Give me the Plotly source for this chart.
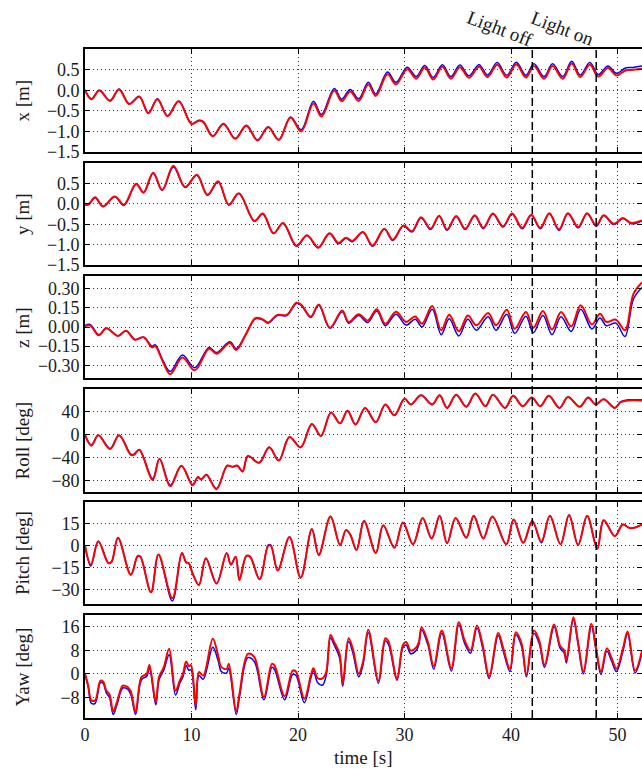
import plotly.graph_objects as go

# ---------------- data ----------------
x_ticks = [0, 10, 20, 30, 40, 50]

# x [m]
t_x = [0, 0.6, 1.35, 2.35, 3.2, 4.15, 5.1, 5.95, 6.8, 7.75, 8.8, 10.0, 10.7, 11.1, 12.0, 13.0, 14.1, 15.15, 16.2, 17.2,
       18.2, 19.3, 20.3, 21.45, 22.2, 23.4, 24.1, 24.9, 25.7, 26.6, 27.3, 28.4, 29.2, 30.25, 31.1, 31.9, 32.7, 33.55, 34.35, 35.2,
       36.05, 37.0, 37.8, 38.7, 39.6, 40.5, 41.4, 42.15, 43.1, 43.9, 44.85, 45.7, 46.5, 47.4, 48.2, 49.1, 49.9, 50.75, 51.3, 52.3]
x_red = [0.0, -0.22, -0.01, -0.26, 0.02, -0.34, -0.16, -0.56, -0.22, -0.63, -0.27, -0.82, -0.74, -0.77, -1.12, -0.82, -1.18, -0.86, -1.22, -0.90,
         -1.21, -0.66, -1.00, -0.32, -0.64, -0.01, -0.27, -0.03, -0.26, 0.14, -0.14, 0.39, 0.14, 0.51, 0.28, 0.55, 0.26, 0.57, 0.28, 0.56,
         0.30, 0.57, 0.32, 0.62, 0.31, 0.63, 0.31, 0.59, 0.28, 0.59, 0.28, 0.65, 0.32, 0.62, 0.33, 0.54, 0.36, 0.48, 0.49, 0.52]
x_blue = [0.01, -0.21, 0.0, -0.25, 0.03, -0.33, -0.15, -0.55, -0.21, -0.62, -0.26, -0.81, -0.73, -0.76, -1.11, -0.81, -1.17, -0.85, -1.21, -0.89,
          -1.20, -0.65, -0.96, -0.27, -0.59, 0.04, -0.22, 0.02, -0.21, 0.19, -0.09, 0.44, 0.19, 0.56, 0.33, 0.60, 0.31, 0.62, 0.33, 0.61,
          0.35, 0.62, 0.37, 0.67, 0.36, 0.68, 0.36, 0.64, 0.33, 0.64, 0.33, 0.70, 0.37, 0.67, 0.38, 0.59, 0.41, 0.54, 0.55, 0.59]

# y [m]
t_y = [0, 0.35, 0.95, 1.7, 2.8, 3.65, 4.8, 5.5, 6.4, 7.25, 8.3, 9.4, 10.5, 11.5, 12.5, 13.5, 14.45, 15.9, 16.7, 17.7,
       18.6, 19.85, 20.85, 21.9, 22.95, 23.8, 24.5, 25.1, 26.1, 27.0, 28.1, 28.9, 29.9, 30.7, 31.55, 32.45, 33.25, 34.0, 34.85, 35.7,
       36.6, 37.4, 38.3, 39.25, 40.1, 41.05, 41.9, 42.75, 43.6, 44.5, 45.35, 46.3, 47.15, 48.0, 48.7, 49.65, 50.5, 51.3, 52.3]
y_red = [0.0, 0.0, 0.16, -0.06, 0.18, -0.02, 0.49, 0.28, 0.76, 0.34, 0.93, 0.41, 0.71, 0.22, 0.55, -0.02, 0.26, -0.42, -0.24, -0.72,
         -0.47, -1.03, -0.77, -1.07, -0.72, -0.96, -0.83, -0.91, -0.69, -1.02, -0.61, -0.88, -0.53, -0.67, -0.33, -0.61, -0.29, -0.63, -0.30, -0.61,
         -0.28, -0.59, -0.24, -0.55, -0.24, -0.59, -0.27, -0.59, -0.23, -0.63, -0.23, -0.57, -0.23, -0.53, -0.28, -0.49, -0.35, -0.47, -0.41]
y_blue = [-0.03, -0.02, 0.15, -0.07, 0.17, -0.04, 0.48, 0.27, 0.75, 0.33, 0.90, 0.40, 0.70, 0.21, 0.54, -0.03, 0.25, -0.43, -0.25, -0.73,
          -0.48, -1.04, -0.78, -1.08, -0.73, -0.98, -0.84, -0.93, -0.70, -1.04, -0.62, -0.90, -0.54, -0.69, -0.34, -0.63, -0.30, -0.65, -0.31, -0.63,
          -0.29, -0.61, -0.25, -0.57, -0.25, -0.61, -0.28, -0.61, -0.24, -0.65, -0.24, -0.59, -0.24, -0.55, -0.29, -0.51, -0.36, -0.49, -0.42]

# z [m]
t_z = [0, 0.47, 1.3, 2.0, 3.1, 3.85, 4.7, 5.5, 6.3, 6.6, 7.3, 8.0, 9.15, 10.3, 11.65, 12.35, 13.6, 14.2, 15.15, 16.0,
       16.7, 17.2, 18.05, 18.95, 19.85, 20.3, 21.2, 21.95, 23.0, 24.15, 24.75, 25.7, 26.55, 27.4, 28.2, 29.2, 30.15, 31.0, 31.65, 32.6,
       33.45, 34.2, 35.1, 35.95, 36.75, 37.85, 38.6, 39.6, 40.35, 41.4, 42.1, 43.0, 43.85, 44.7, 45.65, 46.55, 47.6, 48.35, 48.95, 49.85,
       50.7, 51.5, 52.3]
z_red = [0.005, 0.013, -0.065, -0.01, -0.07, -0.03, -0.10, -0.08, -0.16, -0.15, -0.27, -0.37, -0.24, -0.34, -0.17, -0.21, -0.125, -0.18, -0.05, 0.07,
         0.06, 0.035, 0.095, 0.095, 0.19, 0.175, 0.08, 0.177, -0.005, 0.13, 0.04, 0.10, 0.05, 0.14, 0.025, 0.12, 0.04, 0.083, 0.026, 0.164,
         -0.026, 0.096, -0.034, 0.09, 0.013, 0.11, 0.013, 0.135, -0.013, 0.117, -0.005, 0.125, -0.02, 0.117, 0.005, 0.17, 0.02, 0.104, 0.04, 0.057,
         -0.026, 0.26, 0.35]
z_blue = [0.01, 0.02, -0.06, -0.01, -0.07, -0.03, -0.10, -0.08, -0.15, -0.14, -0.26, -0.35, -0.22, -0.32, -0.16, -0.20, -0.115, -0.17, -0.05, 0.065,
          0.055, 0.03, 0.09, 0.09, 0.185, 0.17, 0.075, 0.17, -0.01, 0.12, 0.03, 0.09, 0.035, 0.125, 0.01, 0.10, 0.015, 0.06, 0.0, 0.14,
          -0.06, 0.065, -0.07, 0.06, -0.025, 0.08, -0.025, 0.10, -0.05, 0.085, -0.045, 0.09, -0.06, 0.08, -0.035, 0.14, -0.015, 0.07, 0.01, 0.03,
          -0.075, 0.22, 0.31]

# Roll [deg]
t_roll = [0, 0.6, 1.25, 2.35, 3.2, 4.3, 4.6, 5.1, 6.35, 7.0, 8.0, 9.05, 10.1, 10.6, 10.9, 11.4, 12.35, 13.35, 13.85, 14.3,
          14.8, 15.3, 16.35, 17.3, 18.2, 19.2, 20.25, 21.3, 22.15, 23.1, 23.95, 24.65, 25.4, 26.3, 27.3, 28.2, 29.05, 30.0, 30.6, 31.55,
          32.6, 33.3, 34.0, 34.85, 35.8, 36.65, 37.6, 38.3, 39.45, 40.2, 41.1, 41.95, 42.75, 43.55, 44.55, 45.35, 46.45, 47.25, 47.95, 48.7,
          49.75, 50.3, 51.0, 52.3]
roll_red = [0, -19, -1, -25, -1, -35, -35, -26, -79, -42, -90, -54, -88, -74, -78, -70, -95, -54, -56, -54,
            -64, -37, -49, -22, -45, -4, -22, 19, -2, 39, 20, 42, 18, 47, 22, 53, 34, 63, 53, 69,
            53, 69, 47, 70, 49, 72, 50, 70, 47, 68, 50, 65, 50, 68, 47, 66, 49, 65, 53, 62,
            47, 57, 60, 60]
roll_blue = [0, -18, -1, -24, -1, -34, -34, -26, -77, -42, -88, -54, -87, -74, -78, -70, -94, -54, -56, -54,
             -64, -37, -49, -22, -45, -4, -22, 19, -2, 39, 20, 42, 18, 47, 22, 53, 34, 63, 53, 69,
             53, 69, 47, 70, 49, 72, 50, 70, 47, 68, 50, 65, 50, 68, 47, 66, 49, 65, 53, 62,
             47, 58, 61, 61]

# Pitch [deg]
t_pitch = [0, 0.55, 1.25, 2.2, 2.5, 3.1, 4.3, 4.95, 5.2, 6.2, 6.9, 8.2, 9.1, 9.5, 9.75, 10.1, 10.7, 11.35, 12.35, 13.3,
           13.7, 14.15, 14.5, 15.15, 15.5, 16.4, 17.2, 17.45, 18.1, 19.2, 20.25, 21.3, 21.95, 23.05, 23.95, 24.5, 24.9, 25.5, 26.2, 27.3,
           28.0, 29.05, 29.85, 30.8, 31.7, 32.55, 33.3, 34.0, 34.8, 35.8, 36.5, 37.4, 38.25, 39.55, 40.25, 41.15, 42.0, 42.85, 43.65, 44.65,
           45.45, 46.3, 47.15, 48.1, 48.7, 49.75, 50.5, 51.2, 52.3]
pitch_red = [0, -13, 3, -12, -11, 5.5, -20, -7, -7.5, -32, -6, -36, -5, -11.5, -12, -19, -27, -8.6, -26, -5,
             -13, -7.5, -23.5, -7, -7.5, -23, 0, 0, -17, 6, -22, 11.4, -6.4, 20, 0.5, 10.7, 7.7, -3, 17, -5,
             14, -1.4, 16, 1, 19, 5, 20.5, 1.6, 19, 5.5, 20.5, 5, 20, 1, 18, 2, 17, 2.7, 20.5, 1,
             21, 0.5, 20.5, -2, 17.5, 6.6, 14.5, 12, 14.5]
pitch_blue = [0, -14, 3, -12, -11, 5.5, -20, -7, -7.5, -32, -6, -38, -5, -11.5, -12, -19, -27, -8.6, -26, -5,
              -13, -7.5, -23.5, -7, -7.5, -23, 0.5, 0.5, -17, 6, -22, 11.4, -6.4, 20, 0.5, 10.7, 7.7, -3, 17, -5,
              14, -1.4, 16, 1, 19, 5, 20.5, 1.6, 19, 5.5, 20.5, 5, 20, 1, 18, 2, 17, 2, 20.5, 1,
              21, 0.5, 20.5, -2, 17.5, 6.6, 14.5, 12, 14.5]

# Yaw [deg]
t_yaw = [0, 0.3, 0.6, 0.95, 1.45, 1.7, 2.0, 2.3, 2.65, 3.0, 3.55, 4.0, 4.3, 4.75, 5.3, 5.8, 6.05, 6.65, 6.95, 7.4,
         7.9, 8.5, 8.9, 9.2, 9.5, 9.75, 9.95, 10.4, 10.7, 11.1, 12.0, 12.5, 12.8, 13.3, 13.5, 14.2, 14.5, 15.3, 15.9, 16.8,
         17.55, 17.8, 18.75, 19.5, 19.8, 20.6, 21.2, 21.45, 21.85, 22.3, 22.65, 23.05, 23.4, 23.9, 24.2, 24.75, 25.15, 25.7, 26.1, 26.6,
         27.55, 28.2, 28.5, 29.3, 29.85, 30.15, 30.6, 31.1, 31.35, 31.6, 32.2, 32.75, 33.5, 34.4, 35.1, 35.65, 36.2, 36.8, 37.35, 37.95,
         38.8, 39.25, 39.9, 40.45, 41.0, 41.45, 42.15, 42.65, 43.15, 44.05, 44.6, 45.0, 45.2, 45.85, 46.3, 46.8, 47.55, 48.0, 48.45, 49.0,
         49.45, 49.9, 50.5, 50.95, 51.65, 52.3]
yaw_red = [0, -4, -9, -9, -2.3, -2.6, -5.7, -7, -12.8, -9.6, -4, -4.5, -6, -13, -1.1, 0, 3, -9.6, -1.1, 2.3,
           8.5, -5.7, -2.3, 0, 4.2, 2.6, 3, -10.8, 0.6, -0.6, 11.9, 6.2, 2.3, 1.7, 3.4, -12.8, -6.8, 6.8, 5.7, -7.9,
           3.4, 2.8, -7.6, 1.1, 0.8, -8.5, -0.6, 1.9, -1.5, -1.5, 0.6, 13.2, 10.8, 6.8, -3.4, 12.1, 8.5, 0, 4, 15,
           -2.3, 12.1, 11, -1.5, 9.8, 10.8, 7.9, 9, 10.8, 15.8, 10.8, 2.6, 14.7, 1.9, 17.5, 11.3, 7.9, 16.4, 9.6, -0.8,
           13.9, 9, 1.7, 14.1, 10.2, -0.3, 14.7, 11.3, 3, 16.8, 9.6, 7.9, 4.5, 19.2, 10.8, 0.8, 17, 8.5, 0.6, 8.7,
           5.3, 1.7, 8.5, 14.4, 1.1, 7.9]
yaw_blue = [0, -4.5, -10, -10, -3, -3.2, -6.5, -8, -13.8, -10.5, -4.8, -5.2, -7, -13.8, -2, -0.8, 2, -10.5, -2, 1.3,
            6.5, -7.2, -3.2, -1, 2.8, 1.2, 1.5, -12.2, -0.6, -1.8, 9.0, 4.5, 0.8, 0.3, 2, -13.8, -8, 5.5, 4.2, -8.8,
            2.2, 1.5, -8.8, -0.2, -0.5, -9.8, -1.5, 1, -3, -3.8, -0.5, 12.2, 9.8, 5.5, -4.2, 11, 7.2, -1, 3, 14,
            -3.2, 11.2, 10, -2.2, 9, 9.8, 6.8, 8, 10, 15, 9.8, 1.6, 13.8, 1, 16.6, 10.3, 7, 15.6, 8.6, -1.6,
            13, 8, 0.8, 13.3, 9.3, -1, 13.8, 10.3, 2.2, 16, 8.8, 7, 3.7, 18.4, 10, 0, 16.2, 7.6, -0.2, 7.8,
            4.3, 0.8, 7.5, 13.6, 0.3, 7]

panel_labels = ["x [m]", "y [m]", "z [m]", "Roll [deg]", "Pitch [deg]", "Yaw [deg]"]
panel_ticks = [[-1.5, -1.0, -0.5, 0.0, 0.5], [-1.5, -1.0, -0.5, 0.0, 0.5], [-0.30, -0.15, 0.0, 0.15, 0.30],
               [-80, -40, 0, 40], [-30, -15, 0, 15], [-8, 0, 8, 16]]
panel_ranges = [[-1.5, 1.0], [-1.5, 1.0], [-0.4, 0.4], [-100, 80], [-40, 30], [-15, 20]]
panel_formats = [".1f", ".1f", ".2f", "d", "d", "d"]
event_times = [42, 48]
event_labels = ["Light off", "Light on"]
event_label_x = [38.96, 44.87]

series = [(t_x, x_blue, x_red), (t_y, y_blue, y_red), (t_z, z_blue, z_red),
          (t_roll, roll_blue, roll_red), (t_pitch, pitch_blue, pitch_red), (t_yaw, yaw_blue, yaw_red)]

# ---------------- layout ----------------
W, H = 642, 769
X0 = 85 / W
panel_px = [(49, 152), (163, 265), (276, 378), (389, 492), (502, 604), (615, 718)]
FONT = "Liberation Serif"
TXT = "#1a1a1a"

fig = go.Figure()
layout = dict(width=W, height=H, margin=dict(l=0, r=0, t=0, b=0, pad=0, autoexpand=False),
              paper_bgcolor="white", plot_bgcolor="white", showlegend=False,
              font=dict(family=FONT, size=18, color=TXT))

annotations = []
shapes = []
for i, (t, b, r) in enumerate(series):
    n = "" if i == 0 else str(i + 1)
    top, bot = panel_px[i]
    dom = [1 - bot / H, 1 - top / H]
    common = dict(ticks="inside", ticklen=5, tickwidth=1, tickcolor="black",
                  mirror="allticks", showline=True, linewidth=1.6, linecolor="black",
                  showgrid=True, gridcolor="#333", griddash="1px,3px", gridwidth=1, zeroline=False,
                  automargin=False, tickfont=dict(family=FONT, size=18, color=TXT))
    xa = dict(domain=[X0, 1.0], anchor="y" + n, range=[0, 52.3], tickvals=x_ticks,
              showticklabels=(i == 5), **common)
    if i > 0:
        xa["matches"] = "x"
    ya = dict(domain=dom, anchor="x" + n, range=panel_ranges[i], tickvals=panel_ticks[i],
              tickformat=panel_formats[i], **common)
    layout["xaxis" + n] = xa
    layout["yaxis" + n] = ya
    fig.add_trace(go.Scatter(x=t, y=b, mode="lines", line=dict(color="#0000ff", width=1.5, shape="spline"),
                             xaxis="x" + n, yaxis="y" + n, hoverinfo="skip"))
    fig.add_trace(go.Scatter(x=t, y=r, mode="lines", line=dict(color="#ff0000", width=2, shape="spline"),
                             xaxis="x" + n, yaxis="y" + n, hoverinfo="skip"))
    annotations.append(dict(text=panel_labels[i], xref="paper", yref="paper", x=22 / W,
                            y=(dom[0] + dom[1]) / 2, textangle=-90, showarrow=False,
                            xanchor="center", yanchor="middle", font=dict(family=FONT, size=19, color=TXT)))

top_paper = 1 - panel_px[0][0] / H
bot_paper = 1 - panel_px[5][1] / H
for et, lab, lx in zip(event_times, event_labels, event_label_x):
    shapes.append(dict(type="line", xref="x6", yref="paper", x0=et, x1=et, y0=bot_paper, y1=top_paper,
                       line=dict(color="black", width=1.5, dash="8px,4px")))
    annotations.append(dict(text=lab, xref="x", yref="paper", x=lx, y=1 - 28 / H, textangle=21,
                            showarrow=False, xanchor="center", yanchor="middle",
                            font=dict(family=FONT, size=19, color=TXT)))

annotations.append(dict(text="time [s]", xref="paper", yref="paper", x=363.5 / W, y=1 - 757 / H,
                        showarrow=False, xanchor="center", yanchor="middle",
                        font=dict(family=FONT, size=19, color=TXT)))

layout["annotations"] = annotations
layout["shapes"] = shapes
fig.update_layout(**layout)
fig.write_html("out.html", config={"displayModeBar": False},
               post_script="document.body.style.margin='0px';document.body.style.padding='0px';")
